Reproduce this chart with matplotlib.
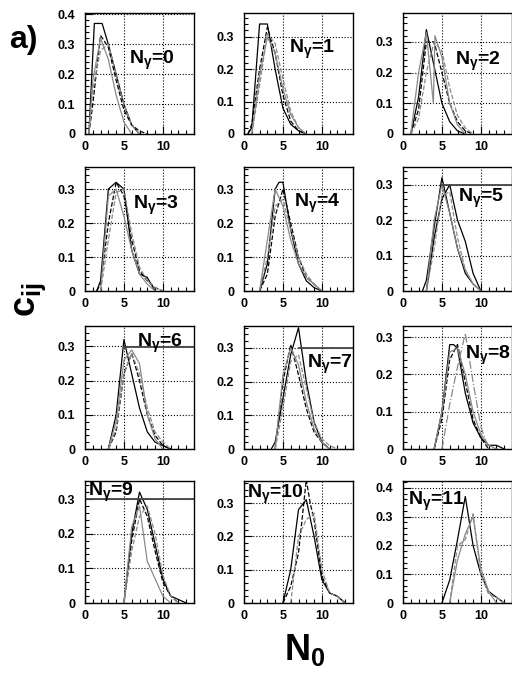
import matplotlib
matplotlib.use("Agg")
import matplotlib.pyplot as plt
from matplotlib import font_manager
from matplotlib.ticker import MultipleLocator, FuncFormatter

# pick a narrow bold face if we have one
names = {f.name for f in font_manager.fontManager.ttflist}
FONT = "Liberation Sans Narrow" if "Liberation Sans Narrow" in names else "Liberation Sans"
plt.rcParams["font.family"] = [FONT, "DejaVu Sans"]
plt.rcParams["mathtext.fontset"] = "custom"
plt.rcParams["mathtext.rm"] = FONT + ":bold"
plt.rcParams["mathtext.it"] = FONT + ":bold"
plt.rcParams["mathtext.bf"] = FONT + ":bold"
plt.rcParams["mathtext.default"] = "bf"

# N_gamma values of the 12 panels
n_gamma = list(range(12))
ymax = [0.405, 0.374, 0.394, 0.365, 0.365, 0.35, 0.36, 0.365, 0.33, 0.352, 0.366, 0.424]

# curves per panel: (x, y, style)
p0 = [([0.5, 1.2, 2.2, 3, 4, 5, 6, 7], [0, 0.37, 0.37, 0.30, 0.2, 0.1, 0.03, 0], "k-"),
      ([0.5, 1, 2, 3, 4, 5, 6, 7, 8], [0, 0.1, 0.33, 0.29, 0.18, 0.08, 0.03, 0.01, 0], "k--"),
      ([0.5, 1, 2, 3, 4, 5, 6], [0, 0.18, 0.32, 0.25, 0.13, 0.04, 0], "g-"),
      ([0.5, 1, 2, 3, 4, 5, 6, 7], [0, 0.15, 0.28, 0.3, 0.2, 0.1, 0.03, 0], "g--")]
p1 = [([0.5, 1, 2, 3, 4, 5, 6, 7, 8], [0, 0.02, 0.34, 0.34, 0.2, 0.08, 0.03, 0.01, 0], "k-"),
      ([0.5, 1, 2, 3, 4, 5, 6, 7, 8], [0, 0.03, 0.2, 0.33, 0.25, 0.12, 0.04, 0.01, 0], "k--"),
      ([1, 2, 3, 4, 5, 6, 7, 8], [0, 0.18, 0.30, 0.25, 0.14, 0.06, 0.02, 0], "g-"),
      ([1, 2, 3, 4, 5, 6, 7, 8], [0, 0.15, 0.31, 0.28, 0.17, 0.07, 0.02, 0], "g--")]
p2 = [([1, 2, 3, 4, 5, 6, 7, 8], [0, 0.12, 0.34, 0.22, 0.1, 0.04, 0.01, 0], "k-"),
      ([1, 2, 3, 4, 5, 6, 7, 8, 9], [0, 0.08, 0.3, 0.3, 0.2, 0.1, 0.04, 0.01, 0], "k--"),
      ([1, 2, 3, 3.9, 4.1, 5, 6, 7, 8], [0, 0.2, 0.33, 0.1, 0.32, 0.25, 0.1, 0.03, 0], "g-"),
      ([1, 2, 3, 4, 5, 6, 7, 8, 9], [0, 0.05, 0.2, 0.3, 0.27, 0.15, 0.06, 0.02, 0], "g--")]
p3 = [([1.5, 2, 3, 4, 5, 6, 7, 8, 9], [0, 0.03, 0.3, 0.32, 0.3, 0.12, 0.05, 0.04, 0], "k-"),
      ([1.5, 2, 3, 4, 5, 6, 7, 8, 9, 10], [0, 0.02, 0.2, 0.32, 0.28, 0.15, 0.06, 0.03, 0.01, 0], "k--"),
      ([2, 3, 4, 5, 6, 7, 8, 9], [0, 0.28, 0.3, 0.22, 0.12, 0.05, 0.02, 0], "g-"),
      ([2, 3, 4, 5, 6, 7, 8, 9, 10], [0, 0.15, 0.29, 0.3, 0.17, 0.07, 0.03, 0.01, 0], "g--")]
p4 = [([2, 3, 4, 4.5, 5, 6, 7, 8, 9, 10], [0, 0.08, 0.3, 0.32, 0.32, 0.18, 0.08, 0.03, 0.01, 0], "k-"),
      ([2, 3, 4, 5, 6, 7, 8, 9, 10], [0, 0.05, 0.22, 0.3, 0.2, 0.1, 0.04, 0.02, 0], "k--"),
      ([2, 3, 4, 5, 6, 7, 8, 9, 10], [0, 0.15, 0.3, 0.25, 0.15, 0.08, 0.04, 0.02, 0], "g-"),
      ([2, 3, 4, 5, 6, 7, 8, 9, 10], [0, 0.1, 0.25, 0.27, 0.18, 0.1, 0.05, 0.02, 0], "g--")]
p5 = [([2.5, 3, 4, 5, 6, 7, 8, 9, 10], [0, 0.03, 0.18, 0.32, 0.22, 0.12, 0.05, 0.02, 0], "k-"),
      ([3, 4, 5, 6, 7, 8, 9, 10], [0, 0.15, 0.26, 0.3, 0.2, 0.14, 0.05, 0], "k-"),
      ([3, 4, 5, 6, 7, 8, 9, 10], [0, 0.2, 0.3, 0.22, 0.12, 0.06, 0.02, 0], "g-"),
      ([3, 4, 5, 6, 7, 8, 9, 10], [0, 0.12, 0.27, 0.28, 0.15, 0.06, 0.02, 0], "g--")]
p6 = [([3, 4, 5, 6, 7, 8, 9, 10, 11], [0, 0.1, 0.32, 0.22, 0.12, 0.05, 0.02, 0.01, 0], "k-"),
      ([3, 4, 5, 6, 7, 8, 9, 10, 11], [0, 0.05, 0.22, 0.28, 0.2, 0.1, 0.04, 0.01, 0], "k--"),
      ([3, 4, 5, 6, 7, 8, 9, 10], [0, 0.08, 0.26, 0.29, 0.25, 0.1, 0.03, 0], "g-"),
      ([3, 4, 5, 6, 7, 8, 9, 10, 11], [0, 0.06, 0.22, 0.28, 0.22, 0.12, 0.05, 0.02, 0], "g--")]
p7 = [([3.5, 4, 5, 6, 7, 8, 9, 10, 11], [0, 0.02, 0.15, 0.28, 0.36, 0.2, 0.08, 0.02, 0], "k-"),
      ([4, 5, 6, 7, 8, 9, 10, 11], [0, 0.2, 0.31, 0.22, 0.12, 0.05, 0.02, 0], "k--"),
      ([4, 5, 6, 7, 8, 9, 10, 11], [0, 0.22, 0.3, 0.25, 0.14, 0.06, 0.02, 0], "g-"),
      ([4, 5, 6, 7, 8, 9, 10, 11, 12], [0, 0.12, 0.26, 0.28, 0.18, 0.08, 0.03, 0.01, 0], "g--")]
p8 = [([4, 5, 6, 6.5, 7, 8, 9, 10, 11, 12, 13], [0, 0.1, 0.28, 0.28, 0.27, 0.15, 0.07, 0.03, 0.01, 0.01, 0], "k-"),
      ([4, 5, 6, 7, 8, 9, 10, 11], [0, 0.08, 0.24, 0.28, 0.18, 0.08, 0.03, 0], "k--"),
      ([4, 5, 6, 7, 8, 9, 10, 11, 12], [0, 0.1, 0.26, 0.27, 0.2, 0.1, 0.04, 0.01, 0], "g-"),
      ([5, 6, 7, 8, 9, 10, 11], [0, 0.12, 0.22, 0.31, 0.18, 0.06, 0], "g-.")]
p9 = [([5, 6, 7, 8, 9, 10, 11, 12, 13], [0, 0.2, 0.32, 0.27, 0.17, 0.07, 0.02, 0.01, 0], "k-"),
      ([5, 6, 7, 8, 9, 10, 11, 12], [0, 0.18, 0.3, 0.25, 0.15, 0.06, 0.02, 0], "k--"),
      ([5, 6, 7, 8, 9, 10, 11], [0, 0.22, 0.28, 0.12, 0.07, 0.02, 0], "g-"),
      ([5, 6, 7, 8, 9, 10, 11, 12], [0, 0.15, 0.25, 0.28, 0.2, 0.08, 0.02, 0], "g--")]
p10 = [([5, 6, 7, 8, 9, 10, 11, 12, 13], [0, 0.1, 0.28, 0.31, 0.2, 0.07, 0.03, 0.02, 0], "k-"),
       ([5, 6, 7, 8, 8.5, 9, 10, 11, 12, 13], [0, 0.05, 0.15, 0.37, 0.3, 0.25, 0.08, 0.03, 0.02, 0], "k--"),
       ([6, 7, 8, 9, 10, 11, 12, 13], [0, 0.2, 0.25, 0.27, 0.1, 0.03, 0.02, 0], "g--")]
p11 = [([5, 6, 7, 8, 9, 10, 11, 12, 13], [0, 0.08, 0.22, 0.37, 0.2, 0.1, 0.04, 0.02, 0], "k-"),
       ([6, 7, 8, 9, 10, 11, 12, 13], [0, 0.2, 0.22, 0.31, 0.1, 0.03, 0.02, 0], "g--"),
       ([6, 7, 8, 9, 10, 11, 12], [0, 0.15, 0.24, 0.3, 0.12, 0.04, 0], "g-")]
curves = [p0, p1, p2, p3, p4, p5, p6, p7, p8, p9, p10, p11]

# solid line at c=0.3 seen in some panels (x start)
line03 = {5: 5.0, 6: 5.0, 7: 7.0, 9: 0.0}

# label positions (axes fraction)
label_pos = [(0.40, 0.61), (0.41, 0.70), (0.48, 0.60), (0.44, 0.69), (0.46, 0.71), (0.50, 0.75),
             (0.48, 0.86), (0.58, 0.69), (0.57, 0.76), (0.03, 0.91), (0.03, 0.89), (0.05, 0.83)]

W, H = 512, 673
col_left = [85, 244, 403]
row_top = [13, 167, 326, 481]
row_bot = [134, 291, 449, 603]
ax_w = 109

styles = {"k-": dict(color="black", ls="-"), "k--": dict(color="black", ls="--"),
          "g-": dict(color="#8a8a8a", ls="-"), "g--": dict(color="#8a8a8a", ls="--"),
          "g-.": dict(color="#8a8a8a", ls="-.")}

fig = plt.figure(figsize=(W / 100, H / 100), dpi=100)

for i in n_gamma:
    r, c = divmod(i, 3)
    ax = fig.add_axes([col_left[c] / W, 1 - row_bot[r] / H, ax_w / W, (row_bot[r] - row_top[r]) / H])
    for x, y, st in curves[i]:
        ax.plot(x, y, lw=0.9, **styles[st])
    if i in line03:
        ax.plot([line03[i], 14], [0.3, 0.3], color="#444444", lw=1.3)
    ax.set_xlim(0, 14)
    ax.set_ylim(0, ymax[i])
    ax.xaxis.set_major_locator(MultipleLocator(5))
    ax.xaxis.set_minor_locator(MultipleLocator(1))
    ax.yaxis.set_major_locator(MultipleLocator(0.1))
    ax.yaxis.set_minor_locator(MultipleLocator(0.02))
    ax.yaxis.set_major_formatter(FuncFormatter(lambda v, _: "0" if abs(v) < 1e-9 else f"{v:.1f}"))
    ax.tick_params(which="both", direction="in", top=False, right=False, labelsize=9, width=0.8)
    ax.tick_params(which="major", length=6)
    ax.tick_params(which="minor", length=3)
    ax.tick_params(axis="x", pad=5)
    ax.tick_params(axis="y", pad=7)
    for lab in ax.get_xticklabels() + ax.get_yticklabels():
        lab.set_fontweight("bold")
    ax.grid(True, which="major", color="black", ls=":", lw=0.8)
    for sp in ax.spines.values():
        sp.set_linewidth(1.0)
    ax.text(label_pos[i][0], label_pos[i][1], r"N$_{\gamma}$=" + str(i), transform=ax.transAxes,
            ha="left", va="center", fontsize=14, fontweight="bold")

fig.text(9 / W, 1 - 40 / H, "a)", fontsize=23, fontweight="bold", ha="left", va="center")
fig.text(30 / W, 1 - 300 / H, r"c$_{ij}$", fontsize=26, fontweight="bold", rotation=90,
         ha="center", va="center")
fig.text(305 / W, 1 - 650 / H, r"N$_{0}$", fontsize=26, fontweight="bold", ha="center", va="center")

fig.savefig("out.png", dpi=100)
